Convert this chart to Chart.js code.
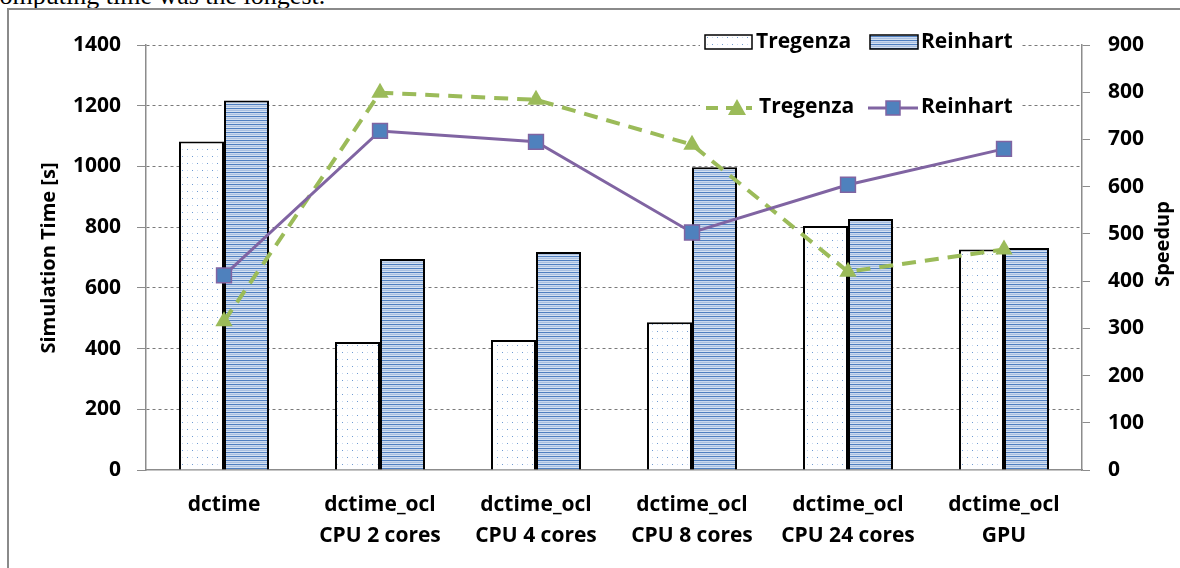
<!DOCTYPE html>
<html><head><meta charset="utf-8">
<script src="https://cdn.jsdelivr.net/npm/chart.js@4/dist/chart.umd.min.js"></script>
<style>
html,body{margin:0;padding:0;background:#fff;overflow:hidden;}
#wrap{position:relative;width:1180px;height:568px;}
#cap{position:absolute;left:-12px;top:-17px;font-family:"Liberation Serif",serif;font-size:26px;line-height:26px;white-space:nowrap;color:#000;}
#frame{position:absolute;left:7px;top:8px;width:1200px;height:600px;border-left:2px solid #8a8a8a;border-top:2px solid #8a8a8a;}
canvas{position:absolute;left:0;top:0;}
</style></head>
<body><div id="wrap">
<div id="cap">computing time was the longest.</div>
<div id="frame"></div>
<canvas id="c" width="1180" height="568"></canvas>
</div>
<script>
const categories = [["dctime"],["dctime_ocl","CPU 2 cores"],["dctime_ocl","CPU 4 cores"],["dctime_ocl","CPU 8 cores"],["dctime_ocl","CPU 24 cores"],["dctime_ocl","GPU"]];
const timeTregenza = [1082, 422, 428, 487, 804, 726];
const timeReinhart = [1217, 695, 718, 997, 827, 731];
const speedTregenza = [315, 799, 784, 689, 420, 467];
const speedReinhart = [412, 718, 695, 503, 604, 680];
const leftTicks = [0,200,400,600,800,1000,1200,1400];
const rightTicks = [0,100,200,300,400,500,600,700,800,900];
const leftTitle = "Simulation Time [s]";
const rightTitle = "Speedup";

const FONT = "'Open Sans'";
function dotPattern(){
  const c=document.createElement('canvas');c.width=10;c.height=14;const x=c.getContext('2d');
  x.fillStyle='#fff';x.fillRect(0,0,10,14);
  x.fillStyle='#6f9bd3';x.fillRect(2,2,1,1);x.fillRect(7,9,1,1);
  x.fillStyle='#c9daf0';x.fillRect(7,2,1,1);x.fillRect(2,9,1,1);
  return x.createPattern(c,'repeat');
}
function stripePattern(){
  const c=document.createElement('canvas');c.width=4;c.height=4;const x=c.getContext('2d');
  const cols=['#4f7fc0','#c9d8ee','#a8bfe0','#d5e1f1'];
  cols.forEach((col,i)=>{x.fillStyle=col;x.fillRect(0,i,4,1);});
  return x.createPattern(c,'repeat');
}
const pDots=dotPattern(), pStripes=stripePattern();

const extrasPlugin={id:'extras',afterDatasetsDraw(chart){
  const ctx=chart.ctx;ctx.save();
  ctx.fillStyle='#fff';ctx.fillRect(700,30,322,24);ctx.fillRect(700,95,322,24);
  ctx.font='bold 21px '+FONT;ctx.fillStyle='#000';ctx.textBaseline='middle';ctx.textAlign='left';
  // row1
  ctx.fillStyle=pDots;ctx.fillRect(705,35,47,14);ctx.strokeStyle='#000';ctx.lineWidth=1.5;ctx.strokeRect(705,35,47,14);
  ctx.fillStyle=pStripes;ctx.fillRect(870,35,48,14);ctx.strokeRect(870,35,48,14);
  ctx.fillStyle='#000';ctx.fillText('Tregenza',756,42);ctx.fillText('Reinhart',921,42);
  // row2
  ctx.strokeStyle='#9bbb59';ctx.lineWidth=4;ctx.setLineDash([12,8]);ctx.beginPath();ctx.moveTo(706,108);ctx.lineTo(752,108);ctx.stroke();
  ctx.setLineDash([]);ctx.fillStyle='#9bbb59';ctx.beginPath();ctx.moveTo(737,99);ctx.lineTo(746,115);ctx.lineTo(728,115);ctx.closePath();ctx.fill();
  ctx.strokeStyle='#8064a2';ctx.lineWidth=3;ctx.beginPath();ctx.moveTo(868,108);ctx.lineTo(918,108);ctx.stroke();
  ctx.fillStyle='#4f81bd';ctx.fillRect(886,101,14,14);ctx.lineWidth=1.5;ctx.strokeRect(886,101,14,14);
  ctx.fillStyle='#000';ctx.fillText('Tregenza',759,107);ctx.fillText('Reinhart',921,107);
  // axis titles
  ctx.font='bold 20px '+FONT;ctx.textAlign='center';
  ctx.save();ctx.translate(49,258);ctx.rotate(-Math.PI/2);ctx.fillText(leftTitle,0,0);ctx.restore();
  ctx.save();ctx.translate(1163,244);ctx.rotate(-Math.PI/2);ctx.fillText(rightTitle,0,0);ctx.restore();
  ctx.restore();
}};

const tickFont={family:FONT,weight:'bold',size:21};
new Chart(document.getElementById('c'),{
  data:{labels:categories,datasets:[
    {type:'line',label:'Tregenza',data:speedTregenza,yAxisID:'y2',borderColor:'#9bbb59',borderWidth:4,borderDash:[14,9],pointStyle:'triangle',pointRadius:10,pointBackgroundColor:'#9bbb59',pointBorderWidth:0,pointBorderColor:'#9bbb59',tension:0,order:1},
    {type:'line',label:'Reinhart',data:speedReinhart,yAxisID:'y2',borderColor:'#8064a2',borderWidth:3,pointStyle:'rect',pointRadius:10.5,pointBackgroundColor:'#4f81bd',pointBorderColor:'#8064a2',pointBorderWidth:1.5,tension:0,order:0},
    {type:'bar',label:'Tregenza',data:timeTregenza,yAxisID:'y',backgroundColor:pDots,borderColor:'#000',borderWidth:2,barPercentage:1,categoryPercentage:0.577,order:2},
    {type:'bar',label:'Reinhart',data:timeReinhart,yAxisID:'y',backgroundColor:pStripes,borderColor:'#000',borderWidth:2,barPercentage:1,categoryPercentage:0.577,order:3}
  ]},
  options:{responsive:false,animation:false,
    layout:{padding:{top:45,left:0,right:0,bottom:0}},
    plugins:{legend:{display:false},tooltip:{enabled:false}},
    scales:{
      x:{grid:{display:false},border:{display:true,color:'#8c8c8c',width:1.5},
         ticks:{color:'#000',font:{family:FONT,weight:'bold',size:21,lineHeight:1.48},padding:11,maxRotation:0,autoSkip:false},
         afterFit(s){s.height=98;}},
      y:{position:'left',min:0,max:1400,
         afterBuildTicks(s){s.ticks=leftTicks.map(v=>({value:v}));},
         grid:{color:c=>c.tick&&c.tick.value===0?'rgba(0,0,0,0)':'#7a7a7a',tickColor:'#8c8c8c',tickLength:9,lineWidth:1},
         border:{display:true,color:'#8c8c8c',width:1.5,dash:[3,3]},
         ticks:{color:'#000',font:tickFont,padding:16,callback:v=>String(v)},
         afterFit(s){s.width=146;}},
      y2:{position:'right',min:0,max:900,
         afterBuildTicks(s){s.ticks=rightTicks.map(v=>({value:v}));},
         grid:{drawOnChartArea:false,tickColor:'#8c8c8c',tickLength:8},
         border:{display:true,color:'#8c8c8c',width:1.5},
         ticks:{color:'#000',font:tickFont,padding:18,callback:v=>String(v)},
         afterFit(s){s.width=98;}}
    }
  },
  plugins:[extrasPlugin]
});
</script>
</body></html>
